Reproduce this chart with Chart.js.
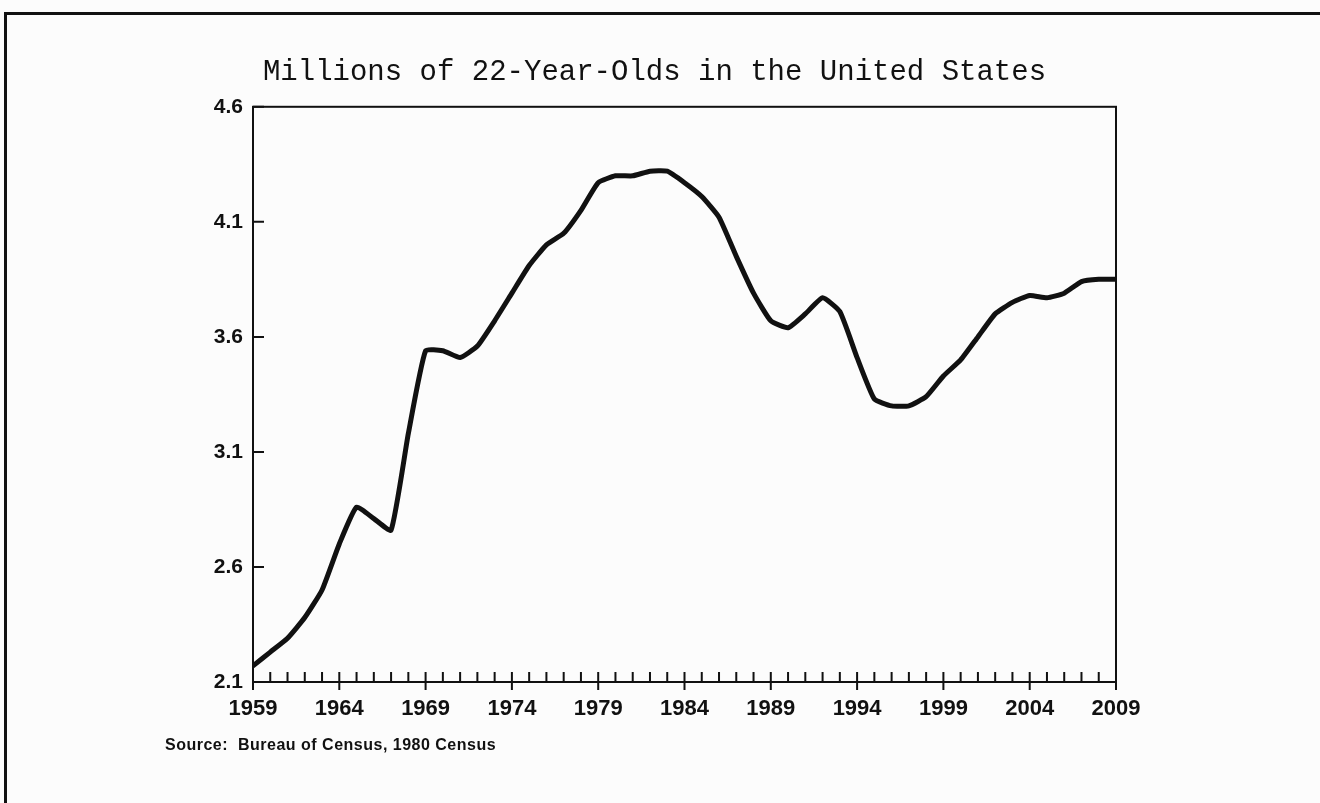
<!DOCTYPE html>
<html>
<head>
<meta charset="utf-8">
<script src="https://cdn.jsdelivr.net/npm/chart.js@4"></script>
<style>
  body { margin: 0; background: #fcfcfc; }
  #wrap { position: relative; width: 1320px; height: 803px; overflow: hidden; }
  #frame { position: absolute; left: 4px; top: 12px; width: 1330px; height: 800px;
           border-top: 3px solid #111; border-left: 3px solid #111; }
  #source { position: absolute; left: 165px; top: 736px; font: bold 16px 'Liberation Sans', sans-serif;
            letter-spacing: 0.5px; color: #111; white-space: pre; }
  canvas { position: absolute; left: 0; top: 0; }
</style>
</head>
<body>
<div id="wrap">
  <div id="frame"></div>
  <canvas id="chart22" width="1320" height="803"></canvas>
  <div id="source">Source:  Bureau of Census, 1980 Census</div>
</div>
<script>
const years = [1959, 1960, 1961, 1962, 1963, 1964, 1965, 1966, 1967, 1968,
               1969, 1970, 1971, 1972, 1973, 1974, 1975, 1976, 1977, 1978,
               1979, 1980, 1981, 1982, 1983, 1984, 1985, 1986, 1987, 1988,
               1989, 1990, 1991, 1992, 1993, 1994, 1995, 1996, 1997, 1998,
               1999, 2000, 2001, 2002, 2003, 2004, 2005, 2006, 2007, 2008, 2009];
const millions = [2.17, 2.23, 2.29, 2.38, 2.50, 2.70, 2.86, 2.81, 2.76, 3.18,
                  3.54, 3.54, 3.51, 3.56, 3.67, 3.79, 3.91, 4.00, 4.05, 4.15,
                  4.27, 4.30, 4.30, 4.32, 4.32, 4.27, 4.21, 4.12, 3.95, 3.79,
                  3.67, 3.64, 3.70, 3.77, 3.71, 3.51, 3.33, 3.30, 3.30, 3.34,
                  3.43, 3.50, 3.60, 3.70, 3.75, 3.78, 3.77, 3.79, 3.84, 3.85, 3.85];
const yTicks = [2.1, 2.6, 3.1, 3.6, 4.1, 4.6];
const xTicks = [1959, 1964, 1969, 1974, 1979, 1984, 1989, 1994, 1999, 2004, 2009];

// box around the plot plus the inward tick marks
const plotFrame = {
    id: 'plotFrame',
    afterDatasetsDraw(chart) {
        const { ctx, chartArea: a, scales } = chart;
        ctx.save();
        ctx.strokeStyle = '#111';
        ctx.lineWidth = 2;
        ctx.strokeRect(a.left, a.top, a.right - a.left, a.bottom - a.top);
        ctx.beginPath();
        yTicks.forEach(v => {
            const y = scales.y.getPixelForValue(v);
            ctx.moveTo(a.left, y);
            ctx.lineTo(a.left + 11, y);
        });
        years.forEach(yr => {
            const x = scales.x.getPixelForValue(yr);
            const major = xTicks.includes(yr);
            ctx.moveTo(x, a.bottom - 10);
            ctx.lineTo(x, major ? a.bottom + 8 : a.bottom);
        });
        ctx.stroke();
        ctx.restore();
    }
};

const chart = new Chart(document.getElementById('chart22').getContext('2d'), {
    type: 'line',
    data: {
        datasets: [{
            label: 'Millions of 22-Year-Olds',
            data: years.map((yr, i) => ({ x: yr, y: millions[i] })),
            borderColor: '#111',
            borderWidth: 5,
            pointRadius: 0,
            tension: 0.15,
            borderJoinStyle: 'round',
            borderCapStyle: 'round'
        }]
    },
    options: {
        responsive: false,
        animation: false,
        layout: { padding: { top: 40, left: 193, right: 204, bottom: 81 } },
        plugins: {
            legend: { display: false },
            tooltip: { enabled: false },
            title: {
                display: true,
                text: 'Millions of 22-Year-Olds in the United States',
                color: '#111',
                font: { family: "'Liberation Mono', monospace", size: 29, weight: 'normal' },
                padding: { top: 15, bottom: 17 }
            }
        },
        scales: {
            x: {
                type: 'linear',
                min: 1959,
                max: 2009,
                grid: { display: false, drawTicks: false },
                border: { display: false },
                afterBuildTicks: s => { s.ticks = xTicks.map(v => ({ value: v })); },
                afterFit: s => { s.height = 40; },
                ticks: {
                    color: '#111',
                    padding: 14,
                    maxRotation: 0,
                    font: { family: "'Liberation Sans', sans-serif", size: 22, weight: 'bold' },
                    callback: v => String(v)
                }
            },
            y: {
                min: 2.1,
                max: 4.6,
                grid: { display: false, drawTicks: false },
                border: { display: false },
                afterBuildTicks: s => { s.ticks = yTicks.map(v => ({ value: v })); },
                afterFit: s => { s.width = 60; },
                ticks: {
                    color: '#111',
                    padding: 10,
                    font: { family: "'Liberation Sans', sans-serif", size: 21, weight: 'bold' },
                    callback: v => v.toFixed(1)
                }
            }
        }
    },
    plugins: [plotFrame]
});
</script>
</body>
</html>
